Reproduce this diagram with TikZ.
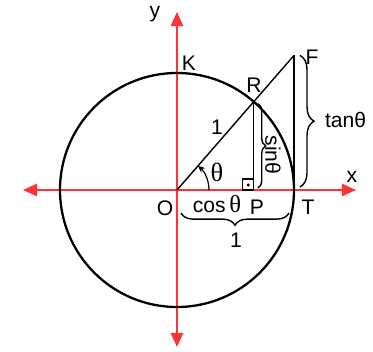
\documentclass[tikz,border=0pt]{standalone}
\usepackage{fontspec}
\setmainfont{Liberation Sans}
\newfontfamily\thfont{Liberation Serif}
\usetikzlibrary{arrows.meta,calc,decorations.pathreplacing}
\definecolor{axred}{HTML}{FF3333}
\tikzset{
  axis/.style={draw=axred,line width=1.2pt,{Triangle[length=8pt,width=7pt]}-{Triangle[length=8pt,width=7pt]}},
  seg/.style={draw=black,line width=0.8pt},
  lbl/.style={font=\fontsize{12}{14}\selectfont,inner sep=1pt},
  brc/.style={draw=black,line width=0.8pt,decorate,decoration={brace,amplitude=#1}},
}

\begin{document}
\begin{tikzpicture}[x=0.02cm,y=0.02cm]
  \useasboundingbox (-177,-162) rectangle (196,190);
  % points of the unit circle
  \coordinate (O) at (0,0);
  \coordinate (R) at (76.8,88.3);
  \coordinate (P) at (76.8,0);
  \coordinate (T) at (117,0);
  \coordinate (F) at (117,134.6);
  \coordinate (xl) at (-154,0); \coordinate (xr) at (179,0);
  \coordinate (yb) at (0,-157); \coordinate (yt) at (0,178);
  % axes
  \draw[axis] (xl) -- (xr);
  \draw[axis] (yb) -- (yt);
  % circle and triangle
  \draw[line width=1.3pt] (O) circle[radius=117];
  \draw[seg] (O) -- (F);
  \draw[seg] (R) -- (P);
  \draw[seg] (F) -- (T);
  % right angle at P
  \draw[line width=0.6pt] ($(P)+(-11,0)$) rectangle ($(P)+(0,11)$);
  \fill ($(P)+(-5.5,5)$) circle[radius=1.6];
  % angle
  \draw[line width=0.7pt,-{Stealth[length=4pt,width=3.5pt]}] ($(O)+(32,0)$) arc[start angle=0,end angle=49,radius=32];
  % braces
  \draw[brc=4.5pt] ($(R)+(4,-2)$) -- ($(P)+(4,2)$);
  \draw[brc=8pt] ($(F)+(6,0)$) -- ($(T)+(6,3)$);
  \draw[brc=7pt] ($(T)+(-5,-23)$) -- ($(O)+(4,-23)$);
  % labels
  \node[lbl] (ly) at (-22,176) {y};
  \node[lbl] (lx) at (175,13) {x};
  \node[lbl] (lO) at (-12,-18) {O};
  \node[lbl] (lP) at (80,-17) {P};
  \node[lbl] (lT) at (131,-17) {T};
  \node[lbl] (lK) at (12,127) {K};
  \node[lbl] (lR) at (77,105) {R};
  \node[lbl] (lF) at (135,133) {F};
  \node[lbl] (l1a) at (40,63) {1};
  \node[lbl] (lth) at (40,18) {{\thfont\fontsize{15}{17}\selectfont θ}};
  \node[lbl] (lcos) at (40,-14) {cos\,{\thfont\fontsize{14}{16}\selectfont θ}};
  \node[lbl] (l1b) at (59,-50) {1};
  \node[lbl,anchor=west] (ltan) at (146,70) {tanθ};
  \node[lbl,rotate=-90] (lsin) at (96,35) {sinθ};
\end{tikzpicture}
\end{document}
